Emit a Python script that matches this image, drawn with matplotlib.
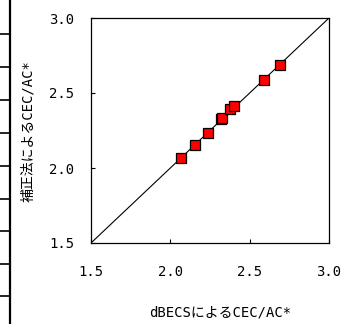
import matplotlib
matplotlib.use('Agg')
import matplotlib.pyplot as plt
from matplotlib.lines import Line2D

# data
x_dbecs = [2.067, 2.155, 2.235, 2.319, 2.323, 2.374, 2.403, 2.588, 2.689]
y_hosei = [2.069, 2.153, 2.235, 2.325, 2.335, 2.395, 2.413, 2.589, 2.689]
lims = [1.5, 3.0]
ticks = [1.5, 2.0, 2.5, 3.0]
tick_labels = ['1.5', '2.0', '2.5', '3.0']
xlabel = 'dBECSによるCEC/AC*'
ylabel = '補正法によるCEC/AC*'

FONT = ['DejaVu Sans Mono', 'Noto Sans CJK JP']
plt.rcParams['font.family'] = FONT

W, H = 343, 324
fig = plt.figure(figsize=(W / 100, H / 100), dpi=100)
ax = fig.add_axes([91 / W, 1 - 243 / H, 238 / W, 225 / H])

ax.plot(lims, lims, color='black', lw=0.8, zorder=2)
ax.plot(x_dbecs, y_hosei, ls='none', marker='s', ms=6.5,
        mfc='#ff0000', mec='black', mew=0.9, zorder=3)

ax.set_xlim(lims)
ax.set_ylim(lims)
ax.set_xticks(ticks)
ax.set_yticks(ticks)
ax.set_xticklabels(tick_labels, fontsize=10)
ax.set_yticklabels(tick_labels, fontsize=10)
ax.tick_params(direction='in', length=3, width=0.8, color='black')
ax.tick_params(axis='x', pad=16)
ax.tick_params(axis='y', pad=12)
for s in ax.spines.values():
    s.set_linewidth(0.9)
    s.set_color('black')

fig.text(220 / W, 1 - 312 / H, xlabel, ha='center', va='center', fontsize=10)
fig.text(28 / W, 1 - 131 / H, ylabel, ha='center', va='center',
         rotation=90, fontsize=10)

# leftover table border on the left edge
fig.add_artist(Line2D([9.5 / W, 9.5 / W], [0, 1], transform=fig.transFigure,
                      color='black', lw=1.6))
for yp in [34, 67, 100, 133, 166, 199, 231, 264, 296]:
    fig.add_artist(Line2D([0, 9.5 / W], [1 - yp / H, 1 - yp / H],
                          transform=fig.transFigure, color='black', lw=1.2))

fig.savefig('out.png', dpi=100)
